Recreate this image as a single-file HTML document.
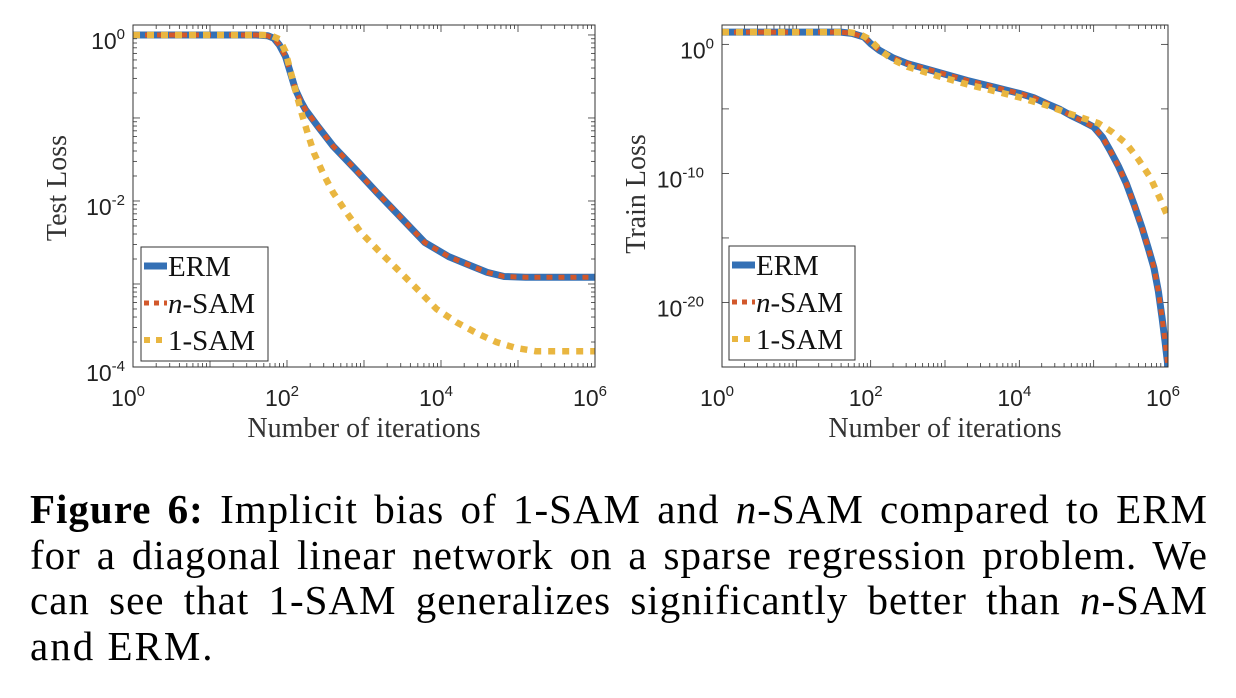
<!DOCTYPE html>
<html><head><meta charset="utf-8">
<style>
body{margin:0;background:#fff;width:1236px;height:698px;overflow:hidden;position:relative;font-family:"Liberation Serif",serif}
svg{position:absolute;left:0;top:0}
#caption{position:absolute;left:30px;top:487px;width:1178px;font-size:41px;line-height:45.5px;color:#000;letter-spacing:1px}
#caption .l{text-align:justify;text-align-last:justify;white-space:nowrap;overflow:visible}
#caption .last{text-align:left;text-align-last:left;letter-spacing:2px}
</style></head><body>
<svg id="chart" width="1236" height="480" xmlns="http://www.w3.org/2000/svg"></svg>
<div id="caption">
<div class="l"><b>Figure 6:</b> Implicit bias of 1-SAM and <i>n</i>-SAM compared to ERM</div>
<div class="l">for a diagonal linear network on a sparse regression problem. We</div>
<div class="l">can see that 1-SAM generalizes significantly better than <i>n</i>-SAM</div>
<div class="l last">and ERM.</div>
</div>
<script>
// Test loss (log10 x, log10 y)
const testX = [0,1.6,1.75,1.83,1.9,1.98,2.05,2.11,2.18,2.24,2.4,2.6,2.9,3.17,3.5,3.79,4.1,4.36,4.6,4.82,5.1,6];
const testERM = [0,0,-0.01,-0.04,-0.12,-0.26,-0.47,-0.66,-0.8,-0.9,-1.1,-1.34,-1.63,-1.9,-2.22,-2.5,-2.67,-2.77,-2.86,-2.91,-2.92,-2.92];
const test1X = [0,1.7,1.8,1.9,1.98,2.05,2.12,2.19,2.27,2.35,2.47,2.6,2.78,2.96,3.2,3.43,3.7,3.94,4.2,4.46,4.72,4.97,5.23,6];
const test1SAM = [0,0,-0.01,-0.05,-0.2,-0.45,-0.7,-0.94,-1.19,-1.42,-1.67,-1.9,-2.15,-2.38,-2.61,-2.82,-3.07,-3.3,-3.46,-3.59,-3.7,-3.77,-3.81,-3.81];
// Train loss
const trainX = [0,1.6,1.75,1.91,2.0,2.12,2.3,2.5,2.9,3.3,3.65,4.0,4.2,4.37,4.55,4.69,4.85,5.0,5.12,5.22,5.33,5.44,5.55,5.65,5.73,5.81,5.87,5.92,5.96,6];
const trainERM = [0.95,0.95,0.85,0.57,0.05,-0.47,-1.05,-1.5,-2.15,-2.8,-3.3,-3.8,-4.15,-4.6,-5.05,-5.5,-5.95,-6.4,-7.2,-8.2,-9.4,-10.8,-12.5,-14.2,-15.7,-17.3,-19.1,-21.2,-23,-25];
const train1X = [0,1.7,1.85,1.95,2.05,2.15,2.3,2.5,2.9,3.3,3.65,4.0,4.35,4.69,4.9,5.06,5.25,5.44,5.6,5.76,5.88,6];
const train1SAM = [0.95,0.95,0.8,0.5,0.0,-0.55,-1.2,-1.75,-2.45,-3.1,-3.6,-4.1,-4.7,-5.4,-5.8,-6.1,-6.8,-7.7,-8.9,-10.3,-11.8,-13.4];
const xTicks = [0,2,4,6];
const testYTicks = [0,-2,-4];
const trainYTicks = [0,-10,-20];
const legendLabels = ["ERM","n-SAM","1-SAM"];

const NS="http://www.w3.org/2000/svg";
const svg=document.getElementById('chart');
function mk(tag,attrs,parent){const e=document.createElementNS(NS,tag);for(const k in attrs)e.setAttribute(k,attrs[k]);(parent||svg).appendChild(e);return e;}
const BLUE="#3470b5",RED="#d2582b",YEL="#e9b640";

function panel(p){
  const g=mk('g',{});
  
  
  const sx=v=>p.x0+(v-0)/6*(p.x1-p.x0);
  const sy=v=>p.y0+(p.ymax-v)/(p.ymax-p.ymin)*(p.y1-p.y0);
  const clipId=p.name+'-clip';
  const cp=mk('clipPath',{id:clipId},g);mk('rect',{x:p.x0,y:p.y0-5,width:p.x1-p.x0,height:p.y1-p.y0+5},cp);
  for(let d=0;d<6;d++)for(let k=1;k<10;k++){const v=d+Math.log10(k);const X=sx(v);const L=k==1?7:4;
    mk('line',{x1:X,x2:X,y1:p.y1,y2:p.y1-L,stroke:'#333','stroke-width':0.8},g);
    mk('line',{x1:X,x2:X,y1:p.y0,y2:p.y0+L,stroke:'#333','stroke-width':0.8},g);}
  p.yMinor.forEach(v=>{const Y=sy(v);const L=p.yMajor.includes(v)?7:4;
    mk('line',{x1:p.x0,x2:p.x0+L,y1:Y,y2:Y,stroke:'#333','stroke-width':0.8},g);
    mk('line',{x1:p.x1,x2:p.x1-L,y1:Y,y2:Y,stroke:'#333','stroke-width':0.8},g);});
  xTicks.forEach(v=>{const t=mk('text',{x:sx(v)-5,y:p.y1+39,'font-family':'Liberation Sans, sans-serif','font-size':23,'text-anchor':'middle',fill:'#222'},g);
    
    t.textContent='10';const s=mk('tspan',{dy:-10,'font-size':15},t);s.textContent=v;});
  p.yTicks.forEach(v=>{const t=mk('text',{x:p.x0-(String(v).length>2?18:8),y:sy(v)+14,'font-family':'Liberation Sans, sans-serif','font-size':23,'text-anchor':'end',fill:'#222'},g);
    
    t.textContent='10';const s=mk('tspan',{dy:-10,'font-size':15},t);s.textContent=v;});
  const pts=(xs,ys)=>xs.map((x,i)=>sx(x).toFixed(1)+','+sy(ys[i]).toFixed(1)).join(' ');
  const cg=mk('g',{'clip-path':'url(#'+clipId+')'},g);
  const l1=mk('polyline',{points:pts(p.xs,p.erm),fill:'none',stroke:BLUE,'stroke-width':7,'stroke-linejoin':'round'},cg);
  
  const l2=mk('polyline',{points:pts(p.xs,p.erm),fill:'none',stroke:RED,'stroke-width':5,'stroke-dasharray':'6 6'},cg);
  
  const l3=mk('polyline',{points:pts(p.x1s,p.sam1),fill:'none',stroke:YEL,'stroke-width':6.5,'stroke-dasharray':'7 7'},cg);
  
  mk('rect',{x:p.x0,y:p.y0,width:p.x1-p.x0,height:p.y1-p.y0,fill:'none',stroke:'#333','stroke-width':1},g);
  const xt=mk('text',{x:(p.x0+p.x1)/2,y:p.y1+70,'font-family':'Liberation Serif, serif','font-size':28,'text-anchor':'middle',fill:'#333'},g);
  xt.textContent='Number of iterations';
  const yt=mk('text',{x:0,y:0,'font-family':'Liberation Serif, serif','font-size':28,'text-anchor':'middle',fill:'#333',transform:`translate(${p.ylx},${(p.y0+p.y1)/2+(p.ylOff||0)}) rotate(-90)`},g);
  yt.textContent=p.ylabel;
  const lg=mk('g',{},g);
  mk('rect',{x:p.lx,y:p.ly,width:p.lw,height:114,fill:'#fff',stroke:'#333','stroke-width':1},lg);
  const cols=[[BLUE,'none',7],[RED,'5 5',5],[YEL,'6 6',6]];
  legendLabels.forEach((lab,i)=>{const Y=p.ly+19+i*37;
    const e=mk('g',{},lg);
    mk('line',{x1:p.lx+3,x2:p.lx+26,y1:Y,y2:Y,stroke:cols[i][0],'stroke-width':cols[i][2],'stroke-dasharray':cols[i][1]},e);
    const t=mk('text',{x:p.lx+27,y:Y+10,'font-family':'Liberation Serif, serif','font-size':29,fill:'#111'},e);
    if(lab==='n-SAM'){const s=mk('tspan',{'font-style':'italic'},t);s.textContent='n';const s2=mk('tspan',{},t);s2.textContent='-SAM';}else t.textContent=lab;});
}
const minorL=[];for(let d=-4;d<0.2;d++)for(let k=1;k<10;k++){const v=d+Math.log10(k);if(v<=0.12)minorL.push(d+(k==1?0:Math.log10(k)));}
panel({name:'test-loss-panel',x0:133,x1:595,y0:25,y1:367,ymin:-4,ymax:0.12,xs:testX,erm:testERM,x1s:test1X,sam1:test1SAM,
  yTicks:testYTicks,yMajor:[0,-1,-2,-3,-4],yMinor:minorL,ylabel:'Test  Loss',ylx:66,ylOff:-8,lx:141,ly:247,lw:127});
panel({name:'train-loss-panel',x0:722,x1:1168,y0:25,y1:367,ymin:-25,ymax:1.5,xs:trainX,erm:trainERM,x1s:train1X,sam1:train1SAM,
  yTicks:trainYTicks,yMajor:[0,-5,-10,-15,-20],yMinor:[0,-5,-10,-15,-20],ylabel:'Train  Loss',ylx:645,ylOff:-2,lx:729,ly:246,lw:126});
</script>
</body></html>
